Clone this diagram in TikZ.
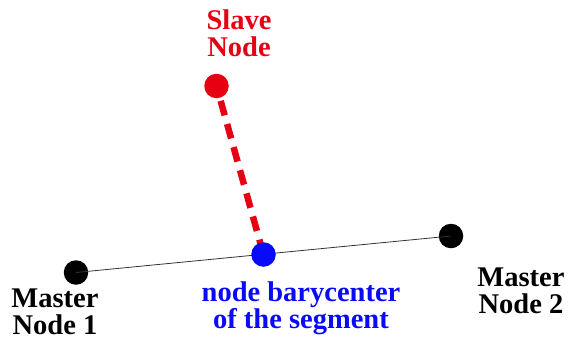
\documentclass[tikz,border=0pt]{standalone}
\usepackage{fontspec}
\setmainfont{Liberation Serif}[BoldFont={Liberation Serif Bold}]
\newfontfamily\lblfont{Liberation Serif Bold}
\definecolor{slavered}{RGB}{230,0,18}
\definecolor{bary}{RGB}{10,10,250}
\begin{document}
\begin{tikzpicture}[x=1pt,y=-1pt,
  dot/.style={circle,inner sep=0,minimum size=24.5pt},
  lbl/.style={align=center,inner sep=0,font=\lblfont\fontsize{28.5}{27.5}\selectfont}]
\useasboundingbox (0,0) rectangle (568,341);
\node[dot,fill=black] (m1) at (76,272.5) {};
\node[dot,fill=black] (m2) at (451,236) {};
\node[dot,fill=slavered] (s) at (216.5,86) {};
\draw[line width=0.8pt,black!80] (m1.center) -- (m2.center);
\draw[slavered,line width=6.5pt,dash pattern=on 15pt off 9pt,shorten <=3pt,shorten >=1pt] (s) -- (263.5,254.5);
\node[dot,fill=bary] (b) at (263.5,254.5) {};
\node[lbl,text=slavered] (ts) at (239,33) {Slave\\Node};
\node[lbl] (t1) at (55,312) {Master\\Node 1};
\node[lbl] (t2) at (521,291) {Master\\Node 2};
\node[lbl,text=bary] (tb) at (301,308.5) {node barycenter\\of the segment};
\end{tikzpicture}
\end{document}
